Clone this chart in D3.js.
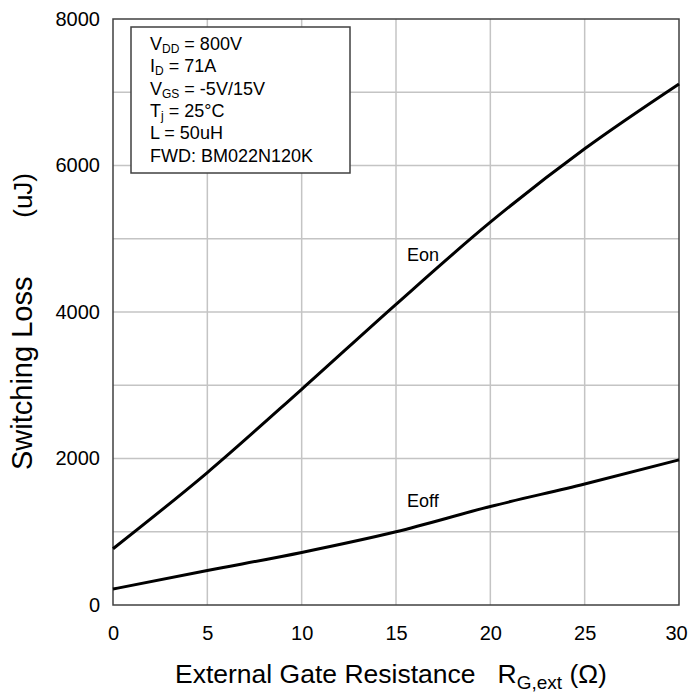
<html>
<head>
<script src="https://d3js.org/d3.v7.min.js"></script>
<style>
body { margin: 0; background: #fff; }
text { font-family: "Liberation Sans", Arial, sans-serif; fill: #000; }
.grid line { stroke: #c4c4c4; stroke-width: 1.5px; }
.curve { fill: none; stroke: #000; stroke-width: 3px; }
</style>
</head>
<body>
<div id="chart"></div>
<script>
// data
var rg   = [0, 5, 10, 15, 20, 25, 30];
var eon  = [768, 1808, 2945, 4105, 5226, 6228, 7113];
var eoff = [218, 470, 718, 1000, 1345, 1651, 1982];
var xTicks = [0, 5, 10, 15, 20, 25, 30];
var yTicks = [0, 2000, 4000, 6000, 8000];
var conditions = [
  ["V", "DD", " = 800V"],
  ["I", "D", " = 71A"],
  ["V", "GS", " = -5V/15V"],
  ["T", "j", " = 25\u00B0C"],
  ["L = 50uH", "", ""],
  ["FWD: BM022N120K", "", ""]
];

var margin = {top: 19, right: 10, bottom: 88, left: 113},
    width = 689 - margin.left - margin.right,
    height = 693 - margin.top - margin.bottom;

var svg = d3.select("#chart").append("svg")
    .attr("width", 689).attr("height", 693)
  .append("g")
    .attr("transform", "translate(" + margin.left + "," + margin.top + ")");

var x = d3.scaleLinear().domain([0, 30]).range([0, width]);
var y = d3.scaleLinear().domain([0, 8000]).range([height, 0]);

// grid
svg.append("g").attr("class", "grid")
  .selectAll("line").data(d3.range(5, 30, 5)).enter().append("line")
    .attr("x1", function(d) { return x(d); }).attr("x2", function(d) { return x(d); })
    .attr("y1", 0).attr("y2", height);
svg.append("g").attr("class", "grid")
  .selectAll("line").data(d3.range(1000, 8000, 1000)).enter().append("line")
    .attr("y1", function(d) { return y(d); }).attr("y2", function(d) { return y(d); })
    .attr("x1", 0).attr("x2", width);

// axes (labels only)
var xa = svg.append("g")
  .attr("transform", "translate(0," + height + ")")
  .call(d3.axisBottom(x).tickValues(xTicks).tickFormat(d3.format("d")).tickSize(0).tickPadding(21));
var ya = svg.append("g")
  .call(d3.axisLeft(y).tickValues(yTicks).tickFormat(d3.format("d")).tickSize(0).tickPadding(13));
[xa, ya].forEach(function(a) {
  a.select(".domain").remove();
  a.selectAll("text").style("font-size", "20px").attr("fill", "#000");
});
// keep the last x label inside the window
xa.selectAll("text").filter(function(d) { return d === 30; }).attr("dx", -3);

// frame
svg.append("rect")
  .attr("width", width).attr("height", height)
  .attr("fill", "none").attr("stroke", "#404040").attr("stroke-width", 1.5);

// curves
var line = d3.line()
    .x(function(d) { return x(d[0]); })
    .y(function(d) { return y(d[1]); })
    .curve(d3.curveMonotoneX);
svg.append("path").attr("class", "curve").attr("d", line(d3.zip(rg, eon)));
svg.append("path").attr("class", "curve").attr("d", line(d3.zip(rg, eoff)));

svg.append("text").attr("x", 407 - margin.left).attr("y", 261 - margin.top)
  .style("font-size", "18px").text("Eon");
svg.append("text").attr("x", 407 - margin.left).attr("y", 507 - margin.top)
  .style("font-size", "18px").text("Eoff");

// conditions box
var box = svg.append("g").attr("transform", "translate(" + (131 - margin.left) + "," + (27 - margin.top) + ")");
box.append("rect").attr("width", 219).attr("height", 146)
  .attr("fill", "#fff").attr("stroke", "#404040").attr("stroke-width", 1.5);
conditions.forEach(function(c, i) {
  var t = box.append("text").attr("x", 19).attr("y", 23 + i * 22.3).style("font-size", "18px");
  t.append("tspan").text(c[0]);
  if (c[1]) {
    t.append("tspan").attr("dy", 3).style("font-size", "12px").text(c[1]);
    t.append("tspan").attr("dy", -3).text(c[2]);
  }
});

// axis titles
var xt = svg.append("text").attr("x", 175 - margin.left).attr("y", 683 - margin.top)
  .attr("xml:space", "preserve").style("font-size", "26.5px");
xt.append("tspan").text("External Gate Resistance   R");
xt.append("tspan").attr("dy", 6).style("font-size", "19px").text("G,ext");
xt.append("tspan").attr("dy", -6).text(" (\u03A9)");

svg.append("text")
  .attr("transform", "translate(" + (32 - margin.left) + "," + (470 - margin.top) + ") rotate(-90)")
  .style("font-size", "29px").text("Switching Loss");
svg.append("text")
  .attr("transform", "translate(" + (32 - margin.left) + "," + (173 - margin.top) + ") rotate(-90)")
  .attr("text-anchor", "end")
  .style("font-size", "26px").text("(uJ)");
</script>
</body>
</html>
